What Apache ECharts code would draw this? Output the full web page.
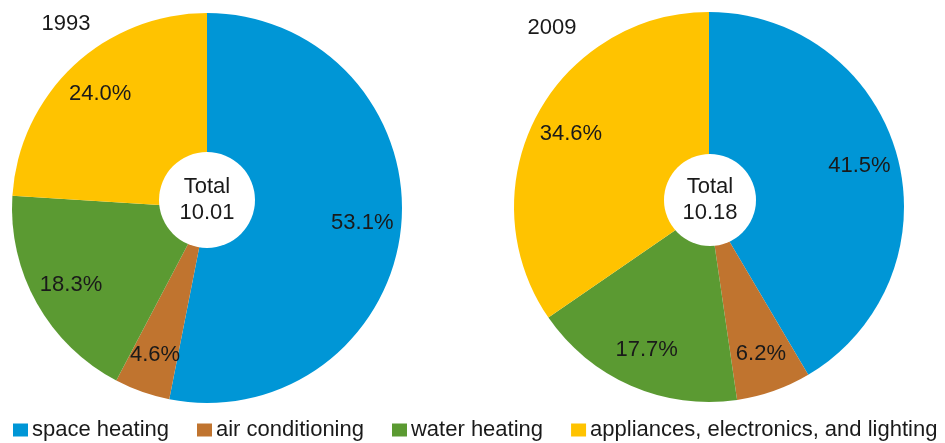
<!DOCTYPE html>
<html>
<head>
<meta charset="utf-8">
<script src="https://cdn.jsdelivr.net/npm/echarts@6/dist/echarts.min.js"></script>
<style>
html,body{margin:0;padding:0;background:#fff;}
#chart{width:945px;height:443px;}
</style>
</head>
<body>
<div id="chart"></div>
<script>
const categories = ['space heating', 'air conditioning', 'water heating', 'appliances, electronics, and lighting'];
const years = ['1993', '2009'];
const values1993 = [53.1, 4.6, 18.3, 24.0];
const values2009 = [41.5, 6.2, 17.7, 34.6];
const totals = ['10.01', '10.18'];

const colors = ['#0096d6', '#c0742f', '#5b9a32', '#ffc300'];
const FONT = '"Liberation Sans", Arial, sans-serif';
const TEXT = '#1a1a1a';
const centers = [[207, 208], [709, 207]];
const R = 195;
const LABEL_R = 156;
const holeCenters = [[207, 200], [710, 200]];
const holeR = [48, 46];
const allValues = [values1993, values2009];

const chart = echarts.init(document.getElementById('chart'), null, {renderer: 'canvas'});

function labelPos(seriesIdx, dataIdx) {
  const vals = allValues[seriesIdx];
  const total = vals.reduce((a, b) => a + b, 0);
  let cum = 0;
  for (let i = 0; i < dataIdx; i++) cum += vals[i];
  const frac = (cum + vals[dataIdx] / 2) / total;
  const th = frac * 2 * Math.PI;
  const c = centers[seriesIdx];
  return {x: c[0] + LABEL_R * Math.sin(th), y: c[1] - LABEL_R * Math.cos(th)};
}

function mainSeries(idx) {
  return {
    type: 'pie',
    name: years[idx],
    center: centers[idx],
    radius: [0, R],
    startAngle: 90,
    clockwise: true,
    avoidLabelOverlap: false,
    silent: true,
    animation: false,
    itemStyle: {borderWidth: 0},
    label: {
      show: true,
      position: 'inside',
      formatter: p => p.value.toFixed(1) + '%',
      fontFamily: FONT,
      fontSize: 22,
      color: TEXT
    },
    labelLine: {show: false},
    labelLayout: params => {
      const p = labelPos(idx, params.dataIndex);
      return {x: p.x, y: p.y, align: 'center', verticalAlign: 'middle'};
    },
    data: categories.map((n, i) => ({name: n, value: allValues[idx][i], itemStyle: {color: colors[i]}}))
  };
}

function holeSeries(idx) {
  return {
    type: 'pie',
    name: 'hole' + idx,
    center: holeCenters[idx],
    radius: [0, holeR[idx]],
    silent: true,
    animation: false,
    z: 5,
    itemStyle: {color: '#ffffff'},
    label: {
      show: true,
      position: 'center',
      formatter: 'Total\n' + totals[idx],
      fontFamily: FONT,
      fontSize: 22,
      lineHeight: 26,
      color: TEXT
    },
    labelLine: {show: false},
    data: [{name: 'Total ' + years[idx], value: 1}]
  };
}

chart.setOption({
  backgroundColor: '#ffffff',
  animation: false,
  title: [
    {text: years[0], left: 61, top: 19, textAlign: 'center', textVerticalAlign: 'middle',
     textStyle: {fontFamily: FONT, fontSize: 22, fontWeight: 'normal', color: TEXT}},
    {text: years[1], left: 547, top: 23, textAlign: 'center', textVerticalAlign: 'middle',
     textStyle: {fontFamily: FONT, fontSize: 22, fontWeight: 'normal', color: TEXT}}
  ],
  legend: {
    data: categories,
    left: 8,
    top: 414,
    icon: 'rect',
    itemWidth: 15,
    itemHeight: 13,
    itemGap: 28,
    selectedMode: false,
    textStyle: {fontFamily: FONT, fontSize: 22, color: TEXT, padding: [0, 0, 0, -1]}
  },
  series: [mainSeries(0), mainSeries(1), holeSeries(0), holeSeries(1)]
});
</script>
</body>
</html>
